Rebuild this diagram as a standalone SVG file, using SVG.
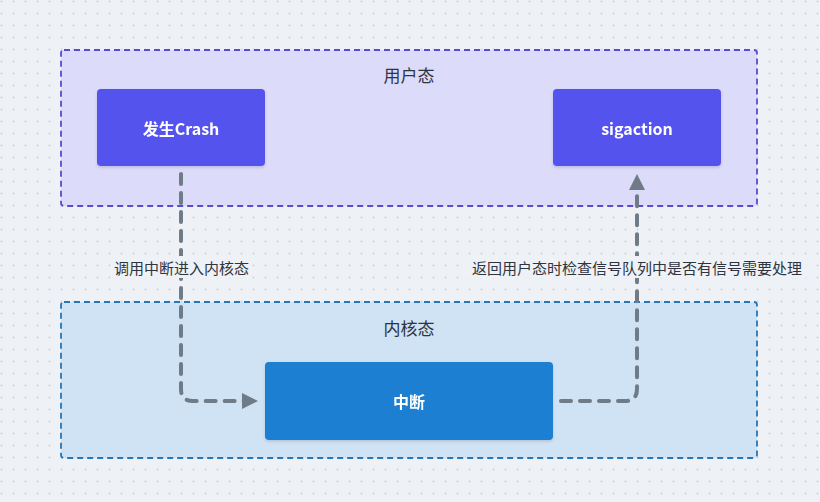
<svg xmlns="http://www.w3.org/2000/svg" width="820" height="502" viewBox="0 0 820 502">
<defs>
<pattern id="dots" x="0" y="0" width="12" height="12" patternUnits="userSpaceOnUse">
<circle cx="1.5" cy="1.5" r="0.9" fill="#cbcfd7"/>
</pattern>
<filter id="sh" x="-10%" y="-10%" width="120%" height="130%">
<feDropShadow dx="0" dy="1.5" stdDeviation="1.5" flood-color="#000" flood-opacity="0.15"/>
</filter>
<marker id="arr" viewBox="0 0 10 10" refX="5" refY="5" markerWidth="4" markerHeight="4" orient="auto" markerUnits="strokeWidth">
<path d="M0,0 L10,5 L0,10 z" fill="#6f7b86"/>
</marker>
</defs>
<style>
.grp-user{fill:#dcdbfa;stroke:#5a4bd2;stroke-width:1.8;stroke-dasharray:6 4}
.grp-kern{fill:#d0e3f5;stroke:#2676b8;stroke-width:1.8;stroke-dasharray:6 4}
.node{filter:url(#sh)}
.purple{fill:#5552ee}
.blue{fill:#1a7fd1}
.ntext{font-family:"Noto Sans CJK SC","Noto Sans",sans-serif;font-size:16px;font-weight:bold;fill:#ffffff;text-anchor:middle;dominant-baseline:central}
.gtext{font-family:"Noto Sans CJK SC","Noto Sans",sans-serif;font-size:17px;fill:#2e3440;text-anchor:middle;dominant-baseline:central}
.ltext{font-family:"Noto Sans CJK SC","Noto Sans",sans-serif;font-size:15px;fill:#2e3440;dominant-baseline:central}
.lbg{fill:#eef1f5}
.conn{fill:none;stroke:#6f7b86;stroke-width:4;stroke-dasharray:10 9;stroke-linecap:round;stroke-linejoin:round}
</style>
<rect width="820" height="502" fill="#eef1f5"/>
<rect width="820" height="502" fill="url(#dots)"/>

<g id="group-user">
<rect class="grp-user" x="61" y="50" width="696" height="156" rx="3"/>
<text class="gtext" x="409" y="74">用户态</text>
</g>
<g id="group-kernel">
<rect class="grp-kern" x="61" y="302" width="696" height="156" rx="3"/>
<text class="gtext" x="409" y="327">内核态</text>
</g>

<g id="connectors">
<path class="conn" d="M181,174 V389 Q181,401 193,401 H250" marker-end="url(#arr)"/>
<path class="conn" d="M561,401 H625 Q637,401 637,389 V182" marker-end="url(#arr)"/>
<rect class="lbg" x="110" y="256" width="142" height="22"/>
<text class="ltext" x="114" y="267">调用中断进入内核态</text>
<rect class="lbg" x="468" y="256" width="338" height="22"/>
<text class="ltext" x="472" y="267">返回用户态时检查信号队列中是否有信号需要处理</text>
</g>

<g id="node-crash" class="node">
<rect class="purple" x="97" y="89" width="168" height="77" rx="4"/>
<text class="ntext" x="181" y="128">发生Crash</text>
</g>
<g id="node-sigaction" class="node">
<rect class="purple" x="553" y="89" width="168" height="77" rx="4"/>
<text class="ntext" x="637" y="128">sigaction</text>
</g>
<g id="node-interrupt" class="node">
<rect class="blue" x="265" y="362" width="288" height="78" rx="4"/>
<text class="ntext" x="409" y="401">中断</text>
</g>
</svg>
